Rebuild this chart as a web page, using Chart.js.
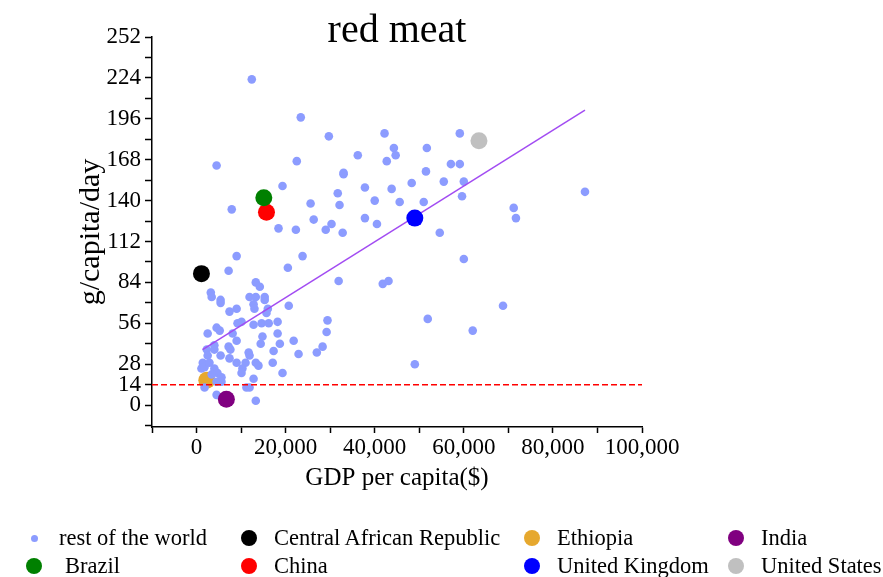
<!DOCTYPE html>
<html>
<head>
<meta charset="utf-8">
<script src="https://cdn.jsdelivr.net/npm/chart.js@4.4.1/dist/chart.umd.min.js"></script>
<style>
  html, body { margin: 0; padding: 0; background: #fff; }
  #wrap { position: relative; width: 883px; height: 577px; }
  #legend { position: absolute; left: 0; top: 0; width: 883px; height: 577px; pointer-events: none;
            font-family: "Liberation Serif", "Times New Roman", serif; font-size: 22.5px; color: #000; }
  .dot { position: absolute; border-radius: 50%; }
  .lbl { position: absolute; line-height: 26px; white-space: nowrap; }
</style>
</head>
<body>
<div id="wrap">
  <canvas id="chart" width="883" height="577"></canvas>
  <div id="legend"></div>
</div>
<script>
// rest of the world (GDP per capita, g/capita/day of red meat)
const restGdp = [
  12400, 23400, 4500, 29700, 42200, 59100, 36200, 22500, 44300, 44700,
  42700, 51700, 57100, 59100, 33000, 33000, 51500, 48300, 55500, 60000,
  31700, 37800, 43800, 32100, 40000, 45600, 51000, 59600, 30300, 37800,
  40500, 32800, 54600, 60000, 71200, 71700, 87200, 19300, 25600, 26300,
  29000, 18400, 22300, 7900, 9000, 23800, 7200, 20500, 31900, 41800,
  43100, 51900, 68800, 62000, 49000, 3200, 3400, 5400, 5400, 13300,
  14200, 11900, 13300, 15300, 15300, 12800, 13000, 16000, 15700, 7400,
  9000, 20700, 9200, 10100, 12800, 14600, 16200, 18200, 29400, 29200,
  2500, 4500, 5200, 8100, 9000, 14800, 14400, 18200, 18700, 21800,
  28300, 27000, 22900, 17300, 17100, 19300, 7200, 7600, 2300, 4000,
  4000, 2500, 5400, 7400, 9000, 11700, 11900, 11000, 13300, 13900,
  10300, 10100, 12800, 1400, 1100, 1800, 2900, 4000, 4700, 5600,
  3400, 1800, 4500, 5600, 11200, 11900, 4500, 13300
];
const restMeat = [
  223, 197, 164, 184, 186, 186, 171, 167, 176, 171,
  167, 176, 165, 165, 159, 158, 160, 152, 153, 153,
  145, 149, 148, 137, 140, 139, 139, 143, 124, 128,
  124, 118, 118, 100, 135, 128, 146, 150, 138, 127,
  120, 121, 120, 134, 102, 102, 92, 94, 85, 83,
  85, 59, 68, 51, 28, 77, 74, 72, 70, 84,
  81, 74, 74, 74, 72, 69, 66, 66, 63, 64,
  66, 68, 56, 57, 55, 56, 56, 57, 58, 50,
  49, 53, 51, 49, 44, 47, 42, 49, 42, 44,
  40, 36, 35, 37, 29, 22, 40, 38, 38, 41,
  38, 34, 34, 32, 29, 36, 34, 29, 29, 27,
  25, 22, 18, 29, 25, 26, 29, 25, 22, 19,
  21, 12, 16, 16, 12, 12, 7, 3
];

// highlighted countries
const countryNames = ["Central African Republic", "Ethiopia", "India", "Brazil", "China", "United Kingdom", "United States"];
const countryGdp = [1100, 2300, 6700, 15100, 15700, 49000, 63400];
const countryMeat = [90, 17, 4, 142, 132, 128, 181];
const countryColors = ["#000000", "#e6a82e", "#800080", "#008000", "#ff0000", "#0000ff", "#c0c0c0"];

// fitted line and reference level
const trendGdp = [1350, 87200];
const trendMeat = [38, 202];
const refLevel = 14;

const xTicks = [0, 20000, 40000, 60000, 80000, 100000];
const yTicks = [0, 14, 28, 56, 84, 112, 140, 168, 196, 224, 252];

const serif = "'Liberation Serif', 'Times New Roman', serif";
const restColor = "#8c9cff";

function toPoints(xs, ys) {
  return xs.map((x, i) => ({ x: x, y: ys[i] }));
}

function countryDataset(i) {
  return {
    label: countryNames[i],
    data: [{ x: countryGdp[i], y: countryMeat[i] }],
    backgroundColor: countryColors[i],
    borderWidth: 0,
    pointRadius: 8.5,
  };
}

// first dataset is drawn on top
const datasets = [];
[0, 2, 3, 4, 5, 6].forEach((i) => datasets.push(countryDataset(i)));
datasets.push({
  label: "fit",
  data: toPoints(trendGdp, trendMeat),
  showLine: true,
  borderColor: "#a24cf2",
  borderWidth: 1.5,
  pointRadius: 0,
});
datasets.push({
  label: "14 g",
  data: [{ x: -10000, y: refLevel }, { x: 100000, y: refLevel }],
  showLine: true,
  borderColor: "#ff0000",
  borderWidth: 1.5,
  borderDash: [6, 3],
  pointRadius: 0,
});
datasets.push({
  label: "rest of the world",
  data: toPoints(restGdp, restMeat),
  backgroundColor: restColor,
  borderWidth: 0,
  pointRadius: 4.3,
});
datasets.push(countryDataset(1)); // Ethiopia sits under the crowd

// title centred over the plot area, not the whole canvas
const plotTitle = {
  id: "plotTitle",
  afterDraw(chart) {
    const ctx = chart.ctx;
    const area = chart.chartArea;
    ctx.save();
    ctx.fillStyle = "#000";
    ctx.font = "40px " + serif;
    ctx.textAlign = "center";
    ctx.textBaseline = "alphabetic";
    ctx.fillText("red meat", (area.left + area.right) / 2, 42);
    ctx.restore();
  },
};

new Chart(document.getElementById("chart"), {
  type: "scatter",
  data: { datasets: datasets },
  plugins: [plotTitle],
  options: {
    responsive: false,
    animation: false,
    layout: { padding: { left: 69, right: 241, top: 37, bottom: 80 } },
    plugins: {
      legend: { display: false },
      tooltip: { enabled: false },
      title: { display: false },
    },
    scales: {
      x: {
        type: "linear",
        min: -10000,
        max: 100000,
        afterFit: (s) => { s.height = 70; },
        border: { color: "#000", width: 1.5 },
        grid: { drawOnChartArea: false, color: "#000", tickLength: 6, tickWidth: 1.5 },
        ticks: {
          stepSize: 10000,
          autoSkip: false,
          maxRotation: 0,
          minRotation: 0,
          padding: 1,
          color: "#000",
          font: { family: serif, size: 23 },
          callback: (v) => (xTicks.includes(v) ? v.toLocaleString("en-US") : ""),
        },
        title: {
          display: true,
          text: "GDP per capita($)",
          color: "#000",
          font: { family: serif, size: 25 },
        },
      },
      y: {
        type: "linear",
        min: -15,
        max: 252,
        afterFit: (s) => { s.width = 83; },
        border: { color: "#000", width: 1.5 },
        grid: { drawOnChartArea: false, color: "#000", tickLength: 7, tickWidth: 1.5 },
        ticks: {
          stepSize: 14,
          includeBounds: false,
          autoSkip: false,
          padding: 4,
          color: "#000",
          font: { family: serif, size: 23 },
          callback: (v) => (yTicks.includes(v) ? String(v) : ""),
        },
        title: {
          display: true,
          text: "g/capita/day",
          color: "#000",
          font: { family: serif, size: 30 },
        },
      },
    },
  },
});

// legend: 4 columns x 2 rows
const legendNames = ["rest of the world", "Central African Republic", "Ethiopia", "India",
                     "Brazil", "China", "United Kingdom", "United States"];
const legendColors = [restColor, "#000000", "#e6a82e", "#800080",
                      "#008000", "#ff0000", "#0000ff", "#c0c0c0"];
const colX = [34, 249, 532, 736];
const rowY = [538, 566];
const legend = document.getElementById("legend");
legendNames.forEach((name, i) => {
  const cx = colX[i % 4];
  const cy = rowY[Math.floor(i / 4)];
  const r = i === 0 ? 3.5 : 8;
  const dot = document.createElement("div");
  dot.className = "dot";
  dot.style.left = cx - r + "px";
  dot.style.top = cy - r + "px";
  dot.style.width = r * 2 + "px";
  dot.style.height = r * 2 + "px";
  dot.style.background = legendColors[i];
  legend.appendChild(dot);
  const lbl = document.createElement("div");
  lbl.className = "lbl";
  lbl.textContent = name;
  lbl.style.left = cx + (i === 4 ? 31 : 25) + "px";
  lbl.style.top = cy - 13 + "px";
  legend.appendChild(lbl);
});
</script>
</body>
</html>
